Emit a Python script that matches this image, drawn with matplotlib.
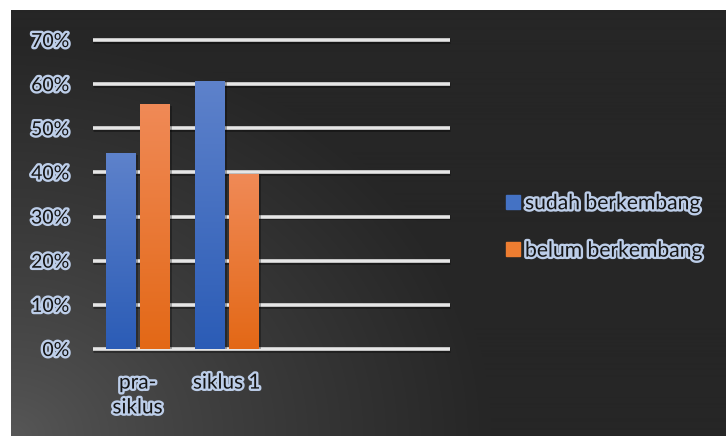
import numpy as np
import matplotlib
matplotlib.use("Agg")
import matplotlib.pyplot as plt
import matplotlib.patheffects as pe
from matplotlib.patches import Rectangle

categories = ["pra-\nsiklus", "siklus 1"]
sudah = [0.4444, 0.608]
belum = [0.5556, 0.397]
series_names = ["sudah berkembang", "belum berkembang"]
yticks = [0, 0.1, 0.2, 0.3, 0.4, 0.5, 0.6, 0.7]
ytick_labels = ["0%", "10%", "20%", "30%", "40%", "50%", "60%", "70%"]

plt.rcParams["font.family"] = ["Lato", "DejaVu Sans"]
text_fx = [pe.withStroke(linewidth=3.4, foreground="#bccde8")]

fig = plt.figure(figsize=(7.26, 4.36), dpi=100)
fig.patch.set_facecolor("white")

# dark background with a radial glow from the lower left corner
bg = fig.add_axes([11 / 726, 0, 715 / 726, 426 / 436])
bg.set_axis_off()
h, w = 426, 715
yy, xx = np.mgrid[0:h, 0:w]
dist = np.sqrt((xx / 1.0) ** 2 + ((h - yy) * 1.2) ** 2)
t = np.clip(dist / 480.0, 0, 1) ** 0.8
light, dark = 0x58 / 255, 0x26 / 255
val = light + (dark - light) * t
img = np.dstack([val, val, val])
bg.imshow(img, extent=[0, 1, 0, 1], aspect="auto", origin="upper")
bg.set_xlim(0, 1)
bg.set_ylim(0, 1)

ax = fig.add_axes([93 / 726, 1 - 349 / 436, 357 / 726, 309 / 436])
ax.set_facecolor("none")
for s in ax.spines.values():
    s.set_visible(False)

x = np.arange(len(categories))
bw = 0.325
off = 0.19

# grid lines with a soft shadow
for yv in yticks:
    ax.hlines(yv - 0.002, -0.5, 3.5, color="black", lw=3.5, alpha=0.35, clip_on=False, zorder=1)
    ax.hlines(yv, -0.5, 3.5, color="#e6e6e6", lw=2.6, clip_on=False, zorder=1.5)

def grad_bars(xs, vals, top, bottom):
    bars = ax.bar(xs, vals, bw, color=bottom, zorder=3)
    cmap = matplotlib.colors.LinearSegmentedColormap.from_list("g", [bottom, top])
    for b in bars:
        bx, by = b.get_x(), b.get_y()
        bh, bwid = b.get_height(), b.get_width()
        sh = Rectangle((bx + 0.03, by), bwid, bh - 0.004, color="black", alpha=0.3, zorder=2.5, lw=0)
        ax.add_patch(sh)
        grad = np.linspace(0, 1, 256).reshape(-1, 1)
        im = ax.imshow(grad, cmap=cmap, extent=[bx, bx + bwid, by, by + bh],
                       origin="lower", aspect="auto", zorder=3.5)
        im.set_clip_path(b)
    return bars

grad_bars(x - off, sudah, "#5e82cb", "#2b5cb6")
grad_bars(x + off, belum, "#f08a57", "#e36816")

ax.set_xlim(-0.5, 3.5)
ax.set_ylim(0, 0.7)
ax.set_yticks(yticks)
ax.set_yticklabels(ytick_labels)
ax.set_xticks(x)
ax.set_xticklabels(categories)
ax.tick_params(axis="y", length=0, pad=17, labelsize=14, labelcolor="#141414")
ax.tick_params(axis="x", length=0, pad=17, labelsize=15, labelcolor="#141414")
for lab in ax.get_yticklabels() + ax.get_xticklabels():
    lab.set_path_effects(text_fx)
for lab in ax.get_xticklabels():
    lab.set_linespacing(1.3)

handles = [Rectangle((0, 0), 1, 1, color="#4472c4"), Rectangle((0, 0), 1, 1, color="#ed7d31")]
leg = fig.legend(handles, series_names, loc="center left", bbox_to_anchor=(487 / 726, 1 - 227 / 436),
                 frameon=False, fontsize=15.2, handlelength=0.65, handleheight=0.65,
                 handletextpad=0.25, labelspacing=1.3)
for txt in leg.get_texts():
    txt.set_color("#141414")
    txt.set_path_effects(text_fx)

plt.savefig("out.png", dpi=100, facecolor=fig.get_facecolor())
plt.close()
